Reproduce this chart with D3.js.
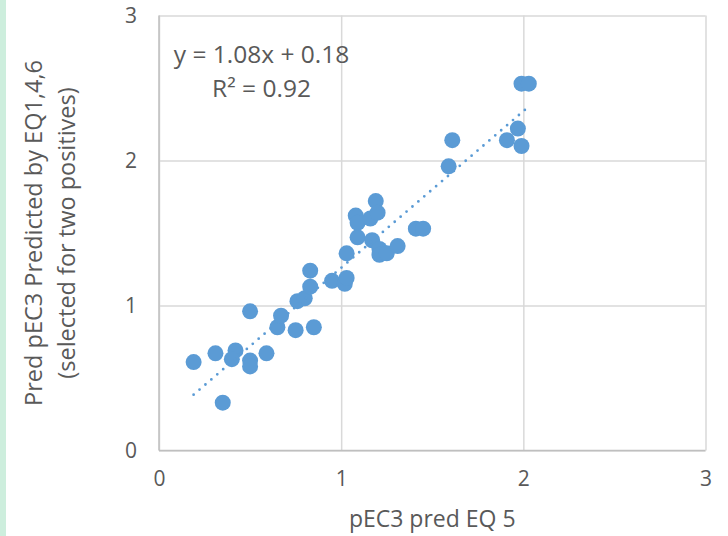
<!DOCTYPE html>
<html>
<head>
<meta charset="utf-8">
<script src="https://cdn.jsdelivr.net/npm/d3@7"></script>
<style>
  body { margin: 0; background: #fff; }
  svg { display: block; }
  text { font-family: "Open Sans", Lato, sans-serif; fill: #595959; }
</style>
</head>
<body>
<svg id="chart" width="728" height="536"></svg>
<script>
// pEC3 predicted by EQ 5 (x) against prediction from EQ1,4,6 (y)
const xValues = [0.19, 0.31, 0.42, 0.40, 0.50, 0.50, 0.50, 0.59, 0.35, 0.65,
                 0.67, 0.75, 0.76, 0.80, 0.83, 0.83, 0.85, 0.95, 1.02, 1.03,
                 1.03, 1.09, 1.08, 1.09, 1.16, 1.19, 1.20, 1.17, 1.21, 1.21,
                 1.25, 1.31, 1.41, 1.45, 1.61, 1.59, 1.99, 2.03, 1.97, 1.91,
                 1.99];
const yValues = [0.61, 0.67, 0.69, 0.63, 0.96, 0.62, 0.58, 0.67, 0.33, 0.85,
                 0.93, 0.83, 1.03, 1.05, 1.24, 1.13, 0.85, 1.17, 1.15, 1.19,
                 1.36, 1.47, 1.62, 1.57, 1.60, 1.72, 1.64, 1.45, 1.39, 1.35,
                 1.36, 1.41, 1.53, 1.53, 2.14, 1.96, 2.53, 2.53, 2.22, 2.14,
                 2.10];
const xTicks = [0, 1, 2, 3];
const yTicks = [0, 1, 2, 3];
const trendSlope = 1.08;
const trendIntercept = 0.18;
const rSquared = 0.92;
const xTitle = "pEC3 pred EQ 5";
const yTitleLines = ["Pred pEC3 Predicted by EQ1,4,6", "(selected for two positives)"];

const svg = d3.select("#chart");
const W = 728, H = 536;
const plot = { left: 159, right: 705.5, top: 15.5, bottom: 450.5 };

// mint strip along the left edge
svg.append("rect").attr("x", 0).attr("y", 0).attr("width", 6).attr("height", H)
   .attr("fill", "#cdeedd");

const x = d3.scaleLinear().domain([0, 3]).range([plot.left, plot.right]);
const y = d3.scaleLinear().domain([0, 3]).range([plot.bottom, plot.top]);

// vertical gridlines + x tick labels
const xAxis = svg.append("g")
  .attr("transform", `translate(0,${plot.bottom})`)
  .call(d3.axisBottom(x).tickValues(xTicks).tickFormat(d3.format("d"))
          .tickSize(-(plot.bottom - plot.top)).tickPadding(0));
xAxis.select(".domain").remove();
xAxis.selectAll("line").attr("stroke", "#d9d9d9").attr("stroke-width", 1.5);
xAxis.selectAll("text").attr("y", 35).attr("dy", 0)
  .style("font-size", "21px").attr("fill", "#595959");

// horizontal gridlines + y tick labels
const yAxis = svg.append("g")
  .attr("transform", `translate(${plot.left},0)`)
  .call(d3.axisLeft(y).tickValues(yTicks).tickFormat(d3.format("d"))
          .tickSize(-(plot.right - plot.left)).tickPadding(0));
yAxis.select(".domain").remove();
yAxis.selectAll("line").attr("stroke", "#d9d9d9").attr("stroke-width", 1.5);
yAxis.selectAll("text").attr("x", -22).attr("dy", "0.35em")
  .style("font-size", "21px").attr("fill", "#595959");

// axis lines
svg.append("line").attr("x1", plot.left).attr("x2", plot.left)
   .attr("y1", plot.top).attr("y2", plot.bottom)
   .attr("stroke", "#bfbfbf").attr("stroke-width", 1.5);
svg.append("line").attr("x1", plot.left).attr("x2", plot.right)
   .attr("y1", plot.bottom).attr("y2", plot.bottom)
   .attr("stroke", "#bfbfbf").attr("stroke-width", 1.5);

// points
const pts = xValues.map((v, i) => ({ x: v, y: yValues[i] }));
svg.append("g").selectAll("circle").data(pts).join("circle")
  .attr("cx", d => x(d.x)).attr("cy", d => y(d.y)).attr("r", 8)
  .attr("fill", "#5b9bd5");

// linear trendline over the data range
const xMin = d3.min(xValues), xMax = d3.max(xValues);
svg.append("line")
  .attr("x1", x(xMin)).attr("y1", y(trendSlope * xMin + trendIntercept))
  .attr("x2", x(xMax)).attr("y2", y(trendSlope * xMax + trendIntercept))
  .attr("stroke", "#5b9bd5").attr("stroke-width", 2.8)
  .attr("stroke-linecap", "round").attr("stroke-dasharray", "0 7.8");

// trendline equation
const eq = svg.append("g").style("font-size", "24.5px").attr("text-anchor", "middle");
eq.append("text").attr("x", 261.5).attr("y", 62.5)
  .text(`y = ${trendSlope.toFixed(2)}x + ${trendIntercept.toFixed(2)}`);
eq.append("text").attr("x", 261.5).attr("y", 97)
  .text(`R\u00B2 = ${rSquared.toFixed(2)}`);

// axis titles
svg.append("text").attr("x", (plot.left + plot.right) / 2).attr("y", 527)
  .attr("text-anchor", "middle").style("font-size", "23px").text(xTitle);

const yt = svg.append("g")
  .attr("transform", `translate(0,${(plot.top + plot.bottom) / 2}) rotate(-90)`)
  .attr("text-anchor", "middle").style("font-size", "23.5px");
yt.append("text").attr("x", 0).attr("y", 42).text(yTitleLines[0]);
yt.append("text").attr("x", 0).attr("y", 75).text(yTitleLines[1]);
</script>
</body>
</html>
